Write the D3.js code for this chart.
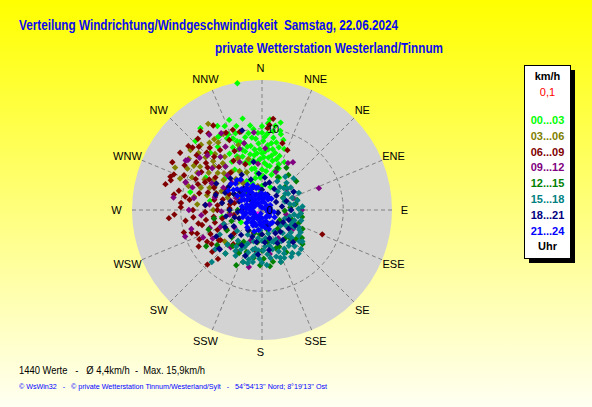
<!DOCTYPE html>
<html lang="de">
<head>
<meta charset="UTF-8">
<title>Verteilung Windrichtung/Windgeschwindigkeit</title>
<script src="https://d3js.org/d3.v7.min.js"></script>
<style>
  body { margin: 0; background: #fff; }
  svg { display: block; font-family: "Liberation Sans", Arial, sans-serif; }
  svg text { white-space: pre; }
</style>
</head>
<body>
<div id="chart"></div>
<script>
// compass labels, clockwise from north
const directions = ['N', 'NNE', 'NE', 'ENE', 'E', 'ESE', 'SE', 'SSE',
                    'S', 'SSW', 'SW', 'WSW', 'W', 'WNW', 'NW', 'NNW'];
const hourLabels = ['00...03', '03...06', '06...09', '09...12', '12...15', '15...18', '18...21', '21...24'];
const ringTicks = [0, 10];
const maxSpeed = 16;

// readings per 3-hour block: [direction in degrees, speed in km/h]
const h00_03 = [
  [323, 12.6], [332, 11.7], [336, 11.3], [343, 10.8], [350, 9.6], [0, 10.3], [4, 10.7], [14, 9.6], [8, 8.3], [10, 7.6],
  [340, 9], [345, 8.5], [350, 8], [355, 8.8], [358, 7.5], [2, 6.5], [5, 8], [12, 6.2], [18, 7], [20, 8],
  [25, 6.5], [340, 7], [335, 6.5], [330, 8], [325, 9.5], [328, 7], [345, 6], [350, 5.2], [355, 6], [0, 5],
  [6, 4.8], [10, 5.5], [15, 4.5], [348, 4], [338, 5], [330, 5.5], [320, 7], [316, 11.8], [318, 9.5], [322, 8.3],
  [345, 10], [352, 10.5], [357, 9.5], [2, 9], [8, 9.8], [12, 8.5], [17, 9], [22, 5.5], [28, 4.5], [340, 3.5],
  [332, 4], [320, 4.5], [310, 6], [300, 5], [0, 3], [355, 2.5], [20, 3], [349, 15.9], [284, 9.1], [290, 6],
  [270, 4], [300, 8], [340, 11.8], [330, 10.5], [12, 11], [5, 11.2], [348, 11.5], [335, 8.5], [0, 7], [357, 4],
  [7, 6.5], [15, 8], [260, 5], [240, 3], [200, 2], [280, 6.5], [342, 7.8], [352, 6.8], [3, 5.8], [326, 6],
  [338, 9.5], [342, 8.8], [347, 9.2], [352, 9], [357, 8.2], [1, 8.5], [4, 9.4], [9, 9], [13, 7.2], [16, 6.5],
  [3, 7.2], [358, 6.3], [353, 7.5], [348, 7], [344, 7.5], [339, 8], [334, 9.8], [329, 10.5], [336, 10.2], [341, 10],
  [347, 8], [354, 10], [0, 9.5], [6, 7.5], [10, 6.8], [7, 5.5], [2, 4.2], [352, 4.6], [346, 5.2], [341, 6.2],
  [335, 7.3], [350, 6.2], [355, 7], [20, 6], [18, 5], [13, 10], [9, 10.5]
];
const h03_06 = [
  [328, 12.5], [327, 9.9], [316, 9.7], [296, 11.9], [291, 10.8], [300, 9.2], [310, 7.1], [305, 8], [315, 8.5], [320, 7.5],
  [325, 8], [312, 10.5], [303, 10], [298, 8], [308, 6], [318, 6], [322, 10.5], [330, 9], [335, 7], [300, 6.5],
  [290, 8], [285, 7], [295, 5.5], [310, 5], [320, 5], [325, 4], [330, 5.5], [340, 8.5], [345, 6.5], [305, 11],
  [317, 11], [280, 5], [270, 6], [288, 9.5], [300, 4], [315, 3.5], [333, 10.5], [338, 5], [312, 8], [293, 7],
  [275, 8], [265, 4], [250, 3], [240, 5], [230, 6], [200, 4], [180, 3], [350, 3],
  [295, 9.5], [305, 9.3], [310, 11.5], [320, 9], [326, 10.5], [302, 7], [296, 6.5], [306, 5], [314, 6.5], [318, 4.5],
  [322, 6], [286, 6], [290, 4.5], [281, 8.5], [299, 10.5], [313, 9.5], [309, 3.5], [296, 3]
];
const h06_09 = [
  [288, 11.8], [267, 10.8], [280, 9.6], [292, 11.7], [311, 12], [294, 10.5], [252, 9.1], [250, 8.5], [225, 9.5], [222, 8.1],
  [295, 9], [300, 11], [305, 12.3], [315, 11], [320, 10], [325, 11.5], [330, 12], [335, 9.5], [310, 9], [300, 7.5],
  [285, 8], [275, 7], [270, 8.5], [260, 7], [262, 9.5], [255, 6], [245, 7], [235, 6.5], [230, 8], [240, 9],
  [290, 6], [305, 7], [315, 7.5], [320, 6], [330, 7], [340, 10.5], [345, 10], [5, 10.5], [7, 11.3], [23, 8],
  [17, 8.6], [112, 8], [280, 11], [285, 12.3], [298, 12.5], [310, 10.5], [318, 8.8], [325, 9], [300, 5], [285, 5],
  [270, 5.5], [250, 5], [230, 4.5], [275, 10], [265, 11.5], [258, 8], [292, 8.5], [308, 8.5], [335, 8], [340, 6],
  [344, 10], [335, 10.5], [295, 6.5], [280, 4], [260, 3.5], [210, 6], [220, 5.5], [200, 3], [190, 5], [234, 6.3],
  [256, 7.6], [245, 8.5], [240, 7.8], [4, 10.1],
  [282, 6], [288, 7], [296, 7.8], [302, 8.8], [306, 10], [312, 11.5], [278, 9], [272, 10], [268, 7], [262, 6],
  [258, 5], [264, 8.5], [276, 5.5], [290, 10], [296, 4.5], [284, 3.5], [273, 4], [318, 11.8], [322, 12.3], [316, 9.8],
  [283, 10.5], [290, 12], [246, 6], [242, 5], [236, 7.5], [254, 10]
];
const h09_12 = [
  [325, 11.3], [303, 11.2], [29, 6.6], [33, 7], [69, 7.5], [90, 4.9], [69, 4.1], [251, 10], [245, 8], [240, 7],
  [135, 5.4], [121, 4.5], [193, 7.2], [251, 6.8], [354, 9.6], [304, 11], [3, 7.6], [355, 5.7], [340, 8], [330, 9],
  [315, 9.5], [310, 8], [320, 7], [300, 9], [290, 10], [280, 8.5], [270, 9], [265, 7.5], [260, 6], [255, 9],
  [230, 7.5], [220, 6], [210, 5], [200, 4], [150, 4], [170, 5.5], [315, 6], [335, 6.5], [345, 8.5], [20, 5],
  [50, 4], [100, 3], [285, 6], [300, 5.5], [325, 4.5], [278, 11],
  [298, 7], [288, 9], [276, 6.5], [268, 5], [312, 5], [322, 8.3], [332, 10.7], [310, 10], [286, 4], [262, 4],
  [248, 5.5], [238, 4], [330, 3], [295, 3.5]
];
const h12_15 = [
  [237, 8.2], [172, 7], [37, 5.4], [107, 3.7], [219, 5.7], [26, 4.5], [80, 4.2], [85, 3.5], [95, 4.8], [110, 4.8],
  [120, 4], [130, 5.5], [140, 4.5], [150, 6], [160, 5], [170, 4], [180, 5], [190, 6], [200, 5.5], [210, 4.5],
  [220, 7], [225, 6], [200, 6.8], [185, 3], [165, 2.5], [140, 3], [120, 2.5], [100, 2], [60, 3], [45, 4],
  [30, 6], [20, 5.5], [240, 5], [250, 4], [260, 6], [270, 3], [300, 4], [320, 3], [160, 6.8], [145, 6.5],
  [115, 5.5], [130, 6.5], [100, 5], [50, 5.5], [250, 7], [74, 4.5], [108, 3.9],
  [188, 4], [198, 3], [208, 6], [215, 5], [178, 6], [168, 6.5], [155, 5], [135, 5], [125, 6], [213, 3],
  [228, 5], [232, 7], [205, 7.5], [182, 6.8], [148, 2], [92, 2.8], [350, 2], [280, 2]
];
const h15_18 = [
  [159, 6.3], [191, 5.9], [224, 8.9], [165, 5], [140, 5.2], [38, 3.6], [45, 3.8], [49, 4.1], [55, 3.5], [70, 3],
  [80, 4], [90, 3.5], [100, 4.5], [110, 3], [120, 4], [125, 5.5], [130, 6], [135, 4.5], [145, 6.5], [150, 5.5],
  [155, 4], [160, 6.8], [170, 6], [175, 4.5], [180, 6.5], [185, 5], [190, 6.5], [195, 4], [200, 6], [205, 5],
  [210, 6.5], [215, 5.5], [220, 7], [225, 6], [230, 7.5], [200, 6.8], [175, 6.8], [150, 3], [130, 3], [115, 5],
  [105, 5], [95, 4.8], [85, 5], [75, 4.5], [60, 4.5], [165, 3], [185, 2.5], [210, 3.5], [230, 4], [240, 6],
  [250, 5], [140, 7], [120, 5.5], [65, 5], [170, 2], [155, 6.5], [195, 6.3], [160, 4.2], [180, 3.8], [190, 4.8],
  [128, 4.5], [133, 5], [138, 6], [143, 5.5], [148, 4.5], [153, 6], [158, 5.5], [163, 6], [168, 4.5], [173, 5.5],
  [178, 5], [183, 6], [188, 5.5], [193, 5], [198, 5.5], [203, 4.5], [208, 5.5], [213, 6], [218, 4.8], [123, 3.5],
  [118, 4.5], [113, 4], [103, 3.5], [98, 4], [88, 4.5], [78, 3.5], [68, 4], [58, 3.8], [52, 4.5], [42, 4.5],
  [148, 6.8], [163, 4], [173, 3.5], [188, 3.5], [138, 3.8], [108, 4.2], [195, 6.8], [135, 6.8], [128, 6.3], [118, 5.2],
  [35, 5], [28, 4], [45, 5.5], [62, 3], [40, 3]
];
const h18_21 = [
  [7, 3.2], [136, 5.5], [227, 7.1], [165, 3.6], [150, 3.3], [120, 3], [90, 3.6], [70, 3.2], [30, 3], [346, 10.1],
  [228, 7.1], [240, 4], [260, 4.5], [280, 5], [300, 4], [320, 3.5], [340, 4], [0, 2.5], [20, 2], [45, 2.5],
  [100, 2], [130, 2.5], [160, 2], [180, 3], [200, 3.5], [210, 5], [220, 4], [250, 3], [270, 2.5], [290, 3],
  [310, 2], [330, 5], [350, 6], [185, 5.5], [170, 5], [145, 4.5], [115, 4.5], [60, 4.5], [200, 6], [240, 6.5],
  [275, 7], [300, 6.5], [315, 5.5], [355, 4.5], [205, 2],
  [255, 3.5], [265, 3], [285, 4], [295, 5], [305, 5], [310, 3.5], [325, 2.5], [340, 3], [5, 4], [15, 3.5],
  [60, 2], [80, 2.5], [110, 3.5], [125, 4], [140, 3.5], [155, 4.5], [175, 4], [190, 4], [215, 3], [230, 5],
  [245, 5], [270, 4], [288, 6]
];
const h21_24 = [
  [0, 1], [0, 2], [350, 1.5], [350, 2.8], [340, 2], [340, 3.2], [330, 1], [330, 2.5], [330, 3.6], [320, 2],
  [320, 3.2], [310, 1.5], [310, 3], [310, 4], [300, 1], [300, 2.5], [300, 3.5], [290, 2], [280, 1.2], [280, 2.5],
  [270, 1.5], [260, 2], [250, 1], [250, 2.5], [240, 2], [230, 1.5], [230, 2.5], [220, 2], [210, 1.2], [200, 2],
  [190, 1.5], [180, 1], [170, 1.5], [150, 1], [120, 1], [90, 1], [60, 1.2], [30, 1.5], [15, 1], [325, 4.6],
  [315, 4.6], [305, 4.3], [0, 0.3], [200, 0.5], [335, 0.5], [160, 2.5], [140, 2], [45, 0.8], [345, 2.8], [325, 3.3],
  [305, 2.2], [0, 1.5], [355, 2], [345, 1.5], [335, 2], [335, 3], [325, 1.5], [325, 2.8], [315, 1.5], [315, 2.5],
  [315, 3.6], [305, 1.2], [305, 3], [295, 1.5], [295, 2.8], [285, 1.5], [275, 2], [265, 1.2], [265, 2.5], [255, 1.5],
  [255, 2.2], [245, 1.2], [235, 2], [225, 1.3], [215, 1.8], [205, 1], [195, 1], [185, 1.8], [160, 1.5], [130, 1.2],
  [100, 1.5], [75, 1], [40, 1.8], [25, 1.8], [12, 2], [8, 1.5], [190, 2.5], [200, 2.8], [210, 2.2], [220, 2.8],
  [180, 2], [170, 2.2], [215, 1], [235, 1], [300, 4.8], [310, 5], [320, 4.8], [150, 2], [120, 1.8], [100, 1],
  [80, 0.5], [110, 0.8], [140, 1], [60, 0.5]
];
const calm = [[240, 0.6]];

// layout
const width = 592;
const height = 407;
const cx = 262, cy = 210, outerR = 130;
const hourColors = ['#00ff00', '#808000', '#800000', '#800080', '#008000', '#008080', '#000080', '#0000ff'];
const series = [h00_03, h03_06, h06_09, h09_12, h12_15, h15_18, h18_21, h21_24];

const svg = d3.select('#chart')
  .append('svg')
  .attr('width', width)
  .attr('height', height);

// yellow background fading downwards
const grad = svg.append('defs').append('linearGradient')
  .attr('id', 'bg')
  .attr('x1', 0).attr('y1', 0).attr('x2', 0).attr('y2', 1);
grad.append('stop').attr('offset', '0%').attr('stop-color', '#ffff00');
grad.append('stop').attr('offset', '100%').attr('stop-color', '#fffff2');
svg.append('rect').attr('width', width).attr('height', height).attr('fill', 'url(#bg)');

// titles
svg.append('text')
  .attr('x', 19).attr('y', 30)
  .attr('textLength', 379).attr('lengthAdjust', 'spacingAndGlyphs')
  .style('font-size', '14px').style('font-weight', 'bold').attr('fill', '#0a0aee')
  .text('Verteilung Windrichtung/Windgeschwindigkeit  Samstag, 22.06.2024');
svg.append('text')
  .attr('x', 215).attr('y', 53)
  .attr('textLength', 228).attr('lengthAdjust', 'spacingAndGlyphs')
  .style('font-size', '14px').style('font-weight', 'bold').attr('fill', '#0a0aee')
  .text('private Wetterstation Westerland/Tinnum');

// scales
const radius = d3.scaleLinear().domain([0, maxSpeed]).range([0, outerR]);
const angle = d3.scaleLinear().domain([0, 360]).range([0, 2 * Math.PI]);

const g = svg.append('g').attr('transform', `translate(${cx},${cy})`);

g.append('circle').attr('r', radius(maxSpeed)).attr('fill', '#d3d3d3');

// spokes
g.selectAll('.spoke')
  .data(directions)
  .enter()
  .append('line')
  .attr('class', 'spoke')
  .attr('x1', 0).attr('y1', 0)
  .attr('x2', (d, i) => d3.pointRadial(angle(i * 22.5), radius(maxSpeed))[0])
  .attr('y2', (d, i) => d3.pointRadial(angle(i * 22.5), radius(maxSpeed))[1])
  .attr('stroke', '#808080')
  .attr('stroke-dasharray', '4,3');

// speed ring
g.append('circle')
  .attr('r', radius(10))
  .attr('fill', 'none')
  .attr('stroke', '#808080')
  .attr('stroke-dasharray', '4,3');

// compass labels
g.selectAll('.dir')
  .data(directions)
  .enter()
  .append('text')
  .attr('class', 'dir')
  .attr('x', (d, i) => d3.pointRadial(angle(i * 22.5), 144)[0] - 1.5)
  .attr('y', (d, i) => d3.pointRadial(angle(i * 22.5), 142)[1])
  .attr('text-anchor', 'middle')
  .attr('dominant-baseline', 'central')
  .style('font-size', '11px')
  .text(d => d);

// readings, oldest first
const marker = 'M0,-3.2L3.2,0L0,3.2L-3.2,0Z';
const place = d => {
  const p = d3.pointRadial(angle(d[0]), radius(d[1]));
  return `translate(${p[0]},${p[1]})`;
};
series.forEach((pts, i) => {
  g.append('g')
    .selectAll('path')
    .data(pts)
    .enter()
    .append('path')
    .attr('d', marker)
    .attr('transform', place)
    .attr('fill', hourColors[i]);
});
g.append('g')
  .selectAll('path')
  .data(calm)
  .enter()
  .append('path')
  .attr('d', 'M0,-1.5L1.5,0L0,1.5L-1.5,0Z')
  .attr('transform', place)
  .attr('fill', '#ff00ff');

// speed tick labels along the north spoke
g.selectAll('.tick')
  .data(ringTicks)
  .enter()
  .append('text')
  .attr('x', 5)
  .attr('y', d => -radius(d))
  .attr('dominant-baseline', 'central')
  .style('font-size', '11px')
  .text(d => d);

// legend
const lx = 524, ly = 65, lw = 46, lh = 193;
svg.append('rect').attr('x', lx + 5).attr('y', ly + 5).attr('width', lw).attr('height', lh).attr('fill', '#000');
svg.append('rect').attr('x', lx + 0.5).attr('y', ly + 0.5).attr('width', lw).attr('height', lh)
  .attr('fill', '#fff').attr('stroke', '#000');
const lmid = lx + lw / 2 + 0.5;
svg.append('text').attr('x', lmid).attr('y', 76).attr('text-anchor', 'middle').attr('dominant-baseline', 'central')
  .style('font-size', '11px').style('font-weight', 'bold').text('km/h');
svg.append('text').attr('x', lmid).attr('y', 92).attr('text-anchor', 'middle').attr('dominant-baseline', 'central')
  .style('font-size', '11px').attr('fill', '#ff0000').text('0,1');
svg.selectAll('.hour')
  .data(hourLabels)
  .enter()
  .append('text')
  .attr('class', 'hour')
  .attr('x', lmid)
  .attr('y', (d, i) => 120 + i * 15.8)
  .attr('text-anchor', 'middle')
  .attr('dominant-baseline', 'central')
  .style('font-size', '11px')
  .style('font-weight', 'bold')
  .attr('fill', (d, i) => hourColors[i])
  .text(d => d);
svg.append('text').attr('x', lmid).attr('y', 246).attr('text-anchor', 'middle').attr('dominant-baseline', 'central')
  .style('font-size', '11px').style('font-weight', 'bold').text('Uhr');

// footer
svg.append('text')
  .attr('x', 19).attr('y', 374)
  .attr('textLength', 186).attr('lengthAdjust', 'spacingAndGlyphs')
  .style('font-size', '11px')
  .text('1440 Werte   -   Ø 4,4km/h  -  Max. 15,9km/h');
svg.append('text')
  .attr('x', 19).attr('y', 389)
  .attr('textLength', 308).attr('lengthAdjust', 'spacingAndGlyphs')
  .style('font-size', '8px').attr('fill', '#0000ff')
  .text("© WsWin32   -   © private Wetterstation Tinnum/Westerland/Sylt   -   54°54'13'' Nord; 8°19'13'' Ost");
</script>
</body>
</html>
